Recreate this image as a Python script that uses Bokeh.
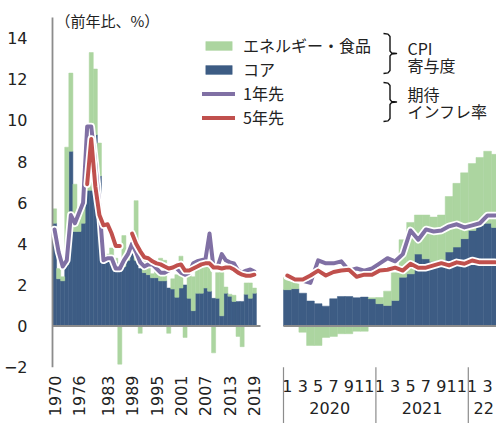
import math
from bokeh.plotting import figure
from bokeh.models import Range1d, FixedTicker, Legend, LegendItem, ColumnDataSource
from bokeh.core.properties import value
from bokeh.embed import file_html
from bokeh.resources import INLINE

# ---------------- annual data (left panel) ----------------
years = list(range(1970, 2020))
core_y = [5.0, 2.3, 2.2, 3.0, 8.5, 4.6, 4.6, 5.0, 6.6, 6.6,
          9.3, 7.3, 3.4, 3.2, 3.3, 3.1, 2.9, 2.9, 3.2, 3.6,
          3.2, 2.8, 2.6, 2.5, 2.35, 2.35, 2.2, 2.2, 1.85, 1.8,
          1.4, 1.85, 2.0, 1.35, 0.75, 1.6, 1.6, 1.85, 1.7, 1.35,
          1.35, 0.5, 1.6, 1.45, 1.2, 1.2, 1.2, 1.55, 1.35, 1.6]
energy_food_y = [0.7, 0.5, 0.2, 5.7, 3.8, 2.3, 0.6, 1.7, 2.4, 6.7,
                 3.2, 1.6, 0.1, 0.3, 0.5, 0.2, -1.85, 1.5, 0.6, 0.4,
                 2.9, -0.35, 0.6, 0.7, 0.2, 0.4, 1.1, 1.0, -0.35, 0.5,
                 1.1, 1.55, -0.55, 1.2, 1.65, 1.3, 1.3, 1.35, 1.2, -1.3,
                 1.25, 2.1, 0.3, 0.1, 0.3, -0.5, -1.0, 0.55, 0.75, 0.25]
exp1_y = [4.7, 3.6, 2.9, 3.2, 5.4, 5.0, 5.5, 6.0, 9.7, 9.7,
          7.9, 5.8, 3.2, 3.3, 3.3, 2.8, 2.8, 3.2, 3.5, 4.0,
          3.6, 3.1, 2.9, 3.0, 3.0, 2.8, 2.6, 2.6, 2.7, 2.9,
          2.8, 2.6, 2.5, 2.6, 3.05, 3.15, 3.2, 3.25, 4.5, 2.8,
          2.9, 3.5, 3.2, 3.1, 3.05, 2.7, 2.6, 2.7, 2.75, 2.65]
nan = float("nan")
exp5_y = [nan, nan, nan, nan, nan, nan, nan, nan, 6.9, 9.1,
          6.8, 5.4, 4.9, 4.95, 4.5, 3.9, 3.9, nan, nan, 4.5,
          4.0, 3.65, 3.35, 3.3, 3.15, 3.05, 3.0, 2.9, 2.8, 2.85,
          2.95, 3.0, 2.7, 2.7, 2.8, 2.9, 3.0, 3.05, 3.05, 2.85,
          2.85, 2.8, 2.85, 2.85, 2.75, 2.6, 2.5, 2.45, 2.45, 2.5]
year_ticks = ["1970", "1976", "1983", "1989", "1995", "2001", "2007", "2013", "2019"]
y_ticks = [-2, 0, 2, 4, 6, 8, 10, 12, 14]

# ---------------- monthly data (right panel, Jan 2020 - Apr 2022) ----------------
month_idx = list(range(28))
core_m = [1.77, 1.82, 1.6, 1.22, 1.09, 0.97, 1.33, 1.44, 1.44, 1.38, 1.41, 1.33,
          1.09, 1.0, 1.25, 2.38, 2.54, 3.5, 3.27, 3.14, 3.2, 3.6, 3.84, 4.25,
          4.65, 4.9, 5.0, 4.8]
energy_food_m = [0.6, 0.45, -0.3, -0.94, -0.94, -0.55, -0.5, -0.37, -0.37, -0.25, -0.25, 0.05,
                 0.3, 0.7, 1.35, 1.82, 2.5, 1.9, 2.13, 2.16, 2.2, 2.7, 3.1, 3.2,
                 3.25, 3.3, 3.5, 3.55]
exp1_m = [2.4, 2.3, 2.2, 2.1, 3.2, 3.05, 3.05, 3.15, 2.7, 2.8, 2.7, 2.8,
          3.05, 3.3, 3.15, 3.5, 4.65, 4.2, 4.7, 4.6, 4.65, 4.85, 4.95, 4.8,
          4.9, 5.0, 5.38, 5.38]
exp5_m = [2.46, 2.27, 2.27, 2.46, 2.7, 2.46, 2.63, 2.7, 2.74, 2.4, 2.5, 2.5,
          2.7, 2.74, 2.84, 2.7, 3.03, 2.84, 2.84, 2.95, 3.06, 2.95, 3.1, 3.03,
          3.19, 3.1, 3.1, 3.1]
month_tick_labels = ["1", "3", "5", "7", "9", "11", "1", "3", "5", "7", "9", "11", "1", "3"]
year_group_labels = ["2020", "2021", "22"]
months_per_group = [12, 12, 4]

# ---------------- colours ----------------
C_GREEN = "#acd5a0"
C_BLUE = "#3d5c84"
C_PURPLE = "#8070a4"
C_RED = "#c0504d"
C_AXIS = "#8c8c8c"
FONT_NUM = "DejaVu Sans"
FONT_JP = "Noto Sans CJK JP"


def stacked(core, ef):
    bottom = [c if e >= 0 else 0 for c, e in zip(core, ef)]
    top = [c + e if e >= 0 else e for c, e in zip(core, ef)]
    return bottom, top


W, H = 496, 423
FL = 40                     # frame left (pixels)
PX_YEAR = 208 / 51          # pixels per year in left panel
PX_MONTH = 7.7              # pixels per month in right panel
x_start = 1969.5 - (52 - FL) / PX_YEAR
x_end = x_start + (W - FL) / PX_YEAR
m_start = -0.5 - (283 - FL) / PX_MONTH
m_end = m_start + (W - FL) / PX_MONTH

p = figure(width=W, height=H,
           x_range=Range1d(x_start, x_end), y_range=Range1d(-4.735, 15.83),
           output_backend="svg", toolbar_location=None, x_axis_location=None,
           title=None,
           min_border_left=FL, min_border_right=0, min_border_top=0, min_border_bottom=0)
p.extra_x_ranges = {"m": Range1d(m_start, m_end), "px": Range1d(FL, W)}
p.extra_y_ranges = {"py": Range1d(H, 0)}
p.outline_line_color = None
p.grid.grid_line_color = None
p.background_fill_color = "white"

# y axis
ya = p.yaxis[0]
ya.ticker = FixedTicker(ticks=y_ticks)
ya.axis_line_color = None
ya.major_tick_line_color = None
ya.minor_tick_line_color = None
ya.major_label_text_font = FONT_NUM
ya.major_label_text_font_size = "16px"
ya.major_label_text_color = "#222222"
ya.major_label_standoff = 7

# ---------- left panel bars ----------
gb_y, gt_y = stacked(core_y, energy_food_y)
src_y = ColumnDataSource(dict(x=years, core=core_y, gb=gb_y, gt=gt_y,
                              e1=exp1_y, e5=exp5_y))
b_left = p.vbar(x="x", width=1, bottom=0, top="core", source=src_y,
                fill_color=C_BLUE, line_color=C_BLUE, line_width=0.5)
g_left = p.vbar(x="x", width=1, bottom="gb", top="gt", source=src_y,
                fill_color=C_GREEN, line_color=C_GREEN, line_width=0.5)

# ---------- right panel bars ----------
gb_m, gt_m = stacked(core_m, energy_food_m)
src_m = ColumnDataSource(dict(x=month_idx, core=core_m, gb=gb_m, gt=gt_m,
                              e1=exp1_m, e5=exp5_m))
p.vbar(x="x", width=1, bottom=0, top="core", source=src_m, x_range_name="m",
       fill_color=C_BLUE, line_color=C_BLUE, line_width=0.5)
p.vbar(x="x", width=1, bottom="gb", top="gt", source=src_m, x_range_name="m",
       fill_color=C_GREEN, line_color=C_GREEN, line_width=0.5)

# ---------- axis lines ----------
p.segment(x0=[1969.5], y0=[0], x1=[years[-1] + 1.5], y1=[0], line_color=C_AXIS, line_width=2)
p.segment(x0=[-0.5], y0=[0], x1=[month_idx[-1] + 0.5], y1=[0], line_color=C_AXIS,
          line_width=2, x_range_name="m")
p.segment(x0=[1969.5], y0=[y_ticks[0]], x1=[1969.5], y1=[15], line_color=C_AXIS, line_width=1.8)

# ---------- expectation lines ----------
HALO = 7.5
LW = 4
h1_left = p.line("x", "e1", source=src_y, line_color="white", line_width=HALO, line_join="round", line_cap="round")
l1_left = p.line("x", "e1", source=src_y, line_color=C_PURPLE, line_width=LW, line_join="round", line_cap="round")
p.line("x", "e1", source=src_m, x_range_name="m", line_color="white", line_width=HALO, line_join="round", line_cap="round")
p.line("x", "e1", source=src_m, x_range_name="m", line_color=C_PURPLE, line_width=LW, line_join="round", line_cap="round")
h5_left = p.line("x", "e5", source=src_y, line_color="white", line_width=HALO, line_join="round", line_cap="round")
l5_left = p.line("x", "e5", source=src_y, line_color=C_RED, line_width=LW, line_join="round", line_cap="round")
p.line("x", "e5", source=src_m, x_range_name="m", line_color="white", line_width=HALO, line_join="round", line_cap="round")
p.line("x", "e5", source=src_m, x_range_name="m", line_color=C_RED, line_width=LW, line_join="round", line_cap="round")

# ---------- left x labels (rotated years) ----------
p.text(x=[int(t) for t in year_ticks], y=[-2.4] * len(year_ticks), text=year_ticks,
       angle=math.pi / 2, text_align="right", text_baseline="middle",
       text_font=value(FONT_NUM), text_font_size=value("16px"), text_color="#222222")

# ---------- right x labels (months / years, separators) ----------
p.text(x=month_idx[::2], y=[-2.89] * len(month_tick_labels), text=month_tick_labels,
       x_range_name="m", text_align="center", text_baseline="middle",
       text_font=value(FONT_NUM), text_font_size=value("16px"), text_color="#222222")
starts = [sum(months_per_group[:i]) for i in range(len(months_per_group))]
centers = [s + (n - 1) / 2 for s, n in zip(starts, months_per_group)]
p.text(x=centers, y=[-3.98] * len(year_group_labels), text=year_group_labels,
       x_range_name="m", text_align="center", text_baseline="middle",
       text_font=value(FONT_NUM), text_font_size=value("16px"), text_color="#222222")
seps = [s - 0.5 for s in starts]
p.segment(x0=seps, y0=[-2.0] * len(seps), x1=seps, y1=[-4.735] * len(seps),
          x_range_name="m", line_color=C_AXIS, line_width=1.2)

# ---------- unit label ----------
p.text(x=[55], y=[20], text=["（前年比、%）"], x_range_name="px", y_range_name="py",
       text_align="left", text_baseline="middle",
       text_font=value(FONT_JP), text_font_size=value("15px"), text_color="#222222")

# ---------- braces and group texts ----------
def brace(top, bot):
    mid = (top + bot) / 2
    xs = [383, 387.5, 389.5, 389.5, 391, 396, 391, 389.5, 389.5, 387.5, 383]
    ys = [top, top + 0.6, top + 3, mid - 2.5, mid - 0.6, mid, mid + 0.6, mid + 2.5, bot - 3, bot - 0.6, bot]
    p.line(xs, ys, x_range_name="px", y_range_name="py", line_color="#111111",
           line_width=1.4, line_join="round")

brace(33, 73)
brace(82, 121)
side_text = ["CPI", "寄与度", "期待", "インフレ率"]
p.text(x=[407] * 4, y=[47.5, 64.5, 93.5, 110.5], text=side_text,
       x_range_name="px", y_range_name="py", text_align="left", text_baseline="middle",
       text_font=value(FONT_JP), text_font_size=value("16px"), text_color="#222222")

# ---------- legend ----------
legend = Legend(items=[
    LegendItem(label="エネルギー・食品", renderers=[g_left]),
    LegendItem(label="コア", renderers=[b_left]),
    LegendItem(label="1年先", renderers=[h1_left, l1_left]),
    LegendItem(label="5年先", renderers=[h5_left, l5_left]),
], location=(162, 294))
legend.glyph_width = 33
legend.glyph_height = 11
legend.label_height = 19
legend.label_standoff = 8
legend.spacing = 0
legend.padding = 0
legend.margin = 0
legend.border_line_color = None
legend.background_fill_alpha = 0
legend.label_text_font = FONT_JP
legend.label_text_font_size = "16px"
legend.label_text_color = "#222222"
p.add_layout(legend)

open("out.html", "w").write(file_html(p, INLINE))
